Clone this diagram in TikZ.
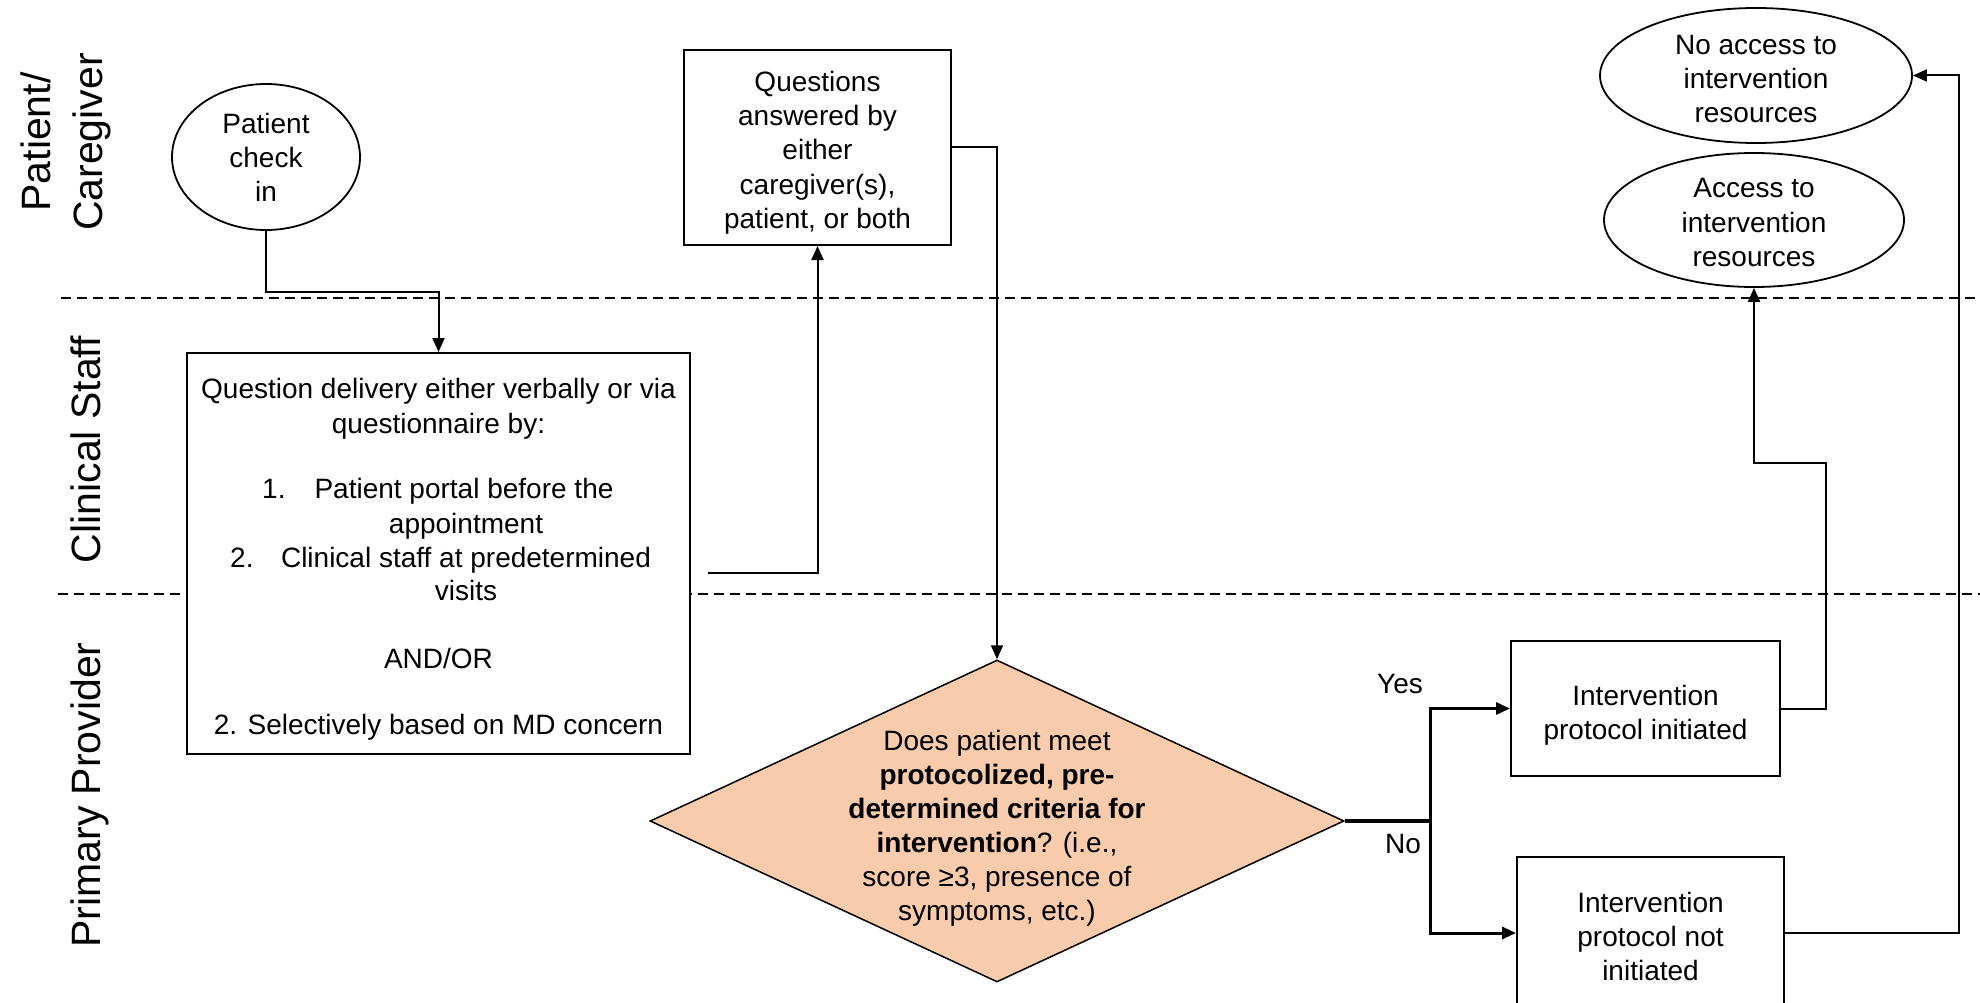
\documentclass[tikz,border=0pt]{standalone}
\usepackage{fontspec}
\setmainfont{Liberation Sans}
\usetikzlibrary{shapes.geometric,arrows.meta,calc}
\definecolor{peach}{RGB}{248,203,173}
\begin{document}
\begin{tikzpicture}[x=1pt,y=-1pt,
  txt/.style={anchor=base,inner sep=0pt,font=\fontsize{28}{34}\selectfont},
  lanelabel/.style={anchor=base,inner sep=0pt,rotate=90,font=\fontsize{41}{50}\selectfont},
  boxn/.style={draw,line width=2pt,fill=white,inner sep=0pt,rectangle},
  ell/.style={draw,line width=1.8pt,ellipse,inner sep=0pt,fill=white},
  conn/.style={line width=2pt},
  arr/.style={conn,-{Triangle[length=14pt,width=12pt]}},
  arrthick/.style={line width=3pt,-{Triangle[length=14pt,width=12pt]}},
  lanesep/.style={line width=2pt,dash pattern=on 10pt off 6pt}]
\useasboundingbox (0,0) rectangle (1980,1003);

% lane separators
\coordinate (s1a) at (61,298);  \coordinate (s1b) at (1980,298);
\coordinate (s2a) at (58,594);  \coordinate (s2b) at (1980,594);
\draw[lanesep] (s1a) -- (s1b);
\draw[lanesep] (s2a) -- (s2b);

% lane labels
\node[lanelabel] (lp1) at (50,142) {Patient/};
\node[lanelabel] (lp2) at (102,142) {Caregiver};
\node[lanelabel] (lcs) at (100,449.5) {Clinical Staff};
\node[lanelabel] (lpp) at (100,795) {Primary Provider};

% shapes
\node[ell,minimum width=188pt,minimum height=146pt] (pc) at (266,157) {};
\node[boxn,minimum width=267pt,minimum height=195pt] (qa) at (817.5,147.5) {};
\node[boxn,minimum width=503pt,minimum height=401pt] (dlv) at (438.5,553.5) {};
\node[diamond,draw,line width=1.5pt,fill=peach,inner sep=0pt,
      minimum width=694pt,minimum height=322pt] (dia) at (997,821) {};
\node[boxn,minimum width=269pt,minimum height=135pt] (yesb) at (1645.5,708.5) {};
\node[boxn,minimum width=267pt,minimum height=152pt] (nob) at (1650.5,933) {};
\node[ell,minimum width=300pt,minimum height=134pt] (acc) at (1754,220) {};
\node[ell,minimum width=312pt,minimum height=135pt] (noacc) at (1756,75.5) {};

% texts: patient check in
\foreach \t [count=\i] in {Patient,check,in}
  \node[txt,name=pct\i] at (266,134+34*\i-34) {\t};
% questions answered
\foreach \t [count=\i] in {Questions,answered by,either,{caregiver(s),},{patient, or both}}
  \node[txt,name=qat\i] at (817.5,92+34*\i-34) {\t};
% question delivery box
\node[txt] (dl1) at (438.5,398) {Question delivery either verbally or via};
\node[txt] (dl2) at (438.5,433) {questionnaire by:};
\node[txt,anchor=base west] (dn1) at (262,498) {1.};
\node[txt] (dl3) at (464,498) {Patient portal before the};
\node[txt] (dl4) at (466,533) {appointment};
\node[txt,anchor=base west] (dn2) at (230,567) {2.};
\node[txt] (dl5) at (466,567) {Clinical staff at predetermined};
\node[txt] (dl6) at (466,600) {visits};
\node[txt] (dl7) at (438.5,668) {AND/OR};
\node[txt] (dl8) at (438.5,734) {2. Selectively based on MD concern};
% diamond
\foreach \t [count=\i] in {Does patient meet,\textbf{protocolized, pre-},\textbf{determined criteria for},{\textbf{intervention}? (i.e.,},{score ≥3, presence of},{symptoms, etc.)}}
  \node[txt,name=dt\i] at (997,750+34*\i-34) {\t};
% yes / no boxes
\node[txt] (yt1) at (1645.5,705) {Intervention};
\node[txt] (yt2) at (1645.5,739) {protocol initiated};
\foreach \t [count=\i] in {Intervention,protocol not,initiated}
  \node[txt,name=nt\i] at (1650.5,912+34*\i-34) {\t};
% ellipses
\foreach \t [count=\i] in {Access to,intervention,resources}
  \node[txt,name=at\i] at (1754,198+34*\i-34) {\t};
\foreach \t [count=\i] in {No access to,intervention,resources}
  \node[txt,name=nat\i] at (1756,55+34*\i-34) {\t};
% branch labels
\node[txt] (lyes) at (1400,693) {Yes};
\node[txt] (lno) at (1403,853) {No};

% connectors
\draw[arr] (pc.south) -- ++(0,61) -| (dlv.north);
\coordinate (dstart) at (708,573);
\draw[arr] (dstart) -| (qa.south);
\draw[arr] (qa.east) -| (dia.north);
\coordinate (split) at (1430,821);
\draw[line width=3.5pt] (dia.east) -- (split);
\draw[arrthick] (split) |- (yesb.west);
\draw[arrthick] (split) |- (nob.west);
\coordinate (ybend) at (1826,463);
\draw[arr] (yesb.east) -| (ybend) -| (acc.south);
\coordinate (nbend) at (1959,75.5);
\draw[arr] (nob.east) -| (nbend) -- (noacc.east);
\end{tikzpicture}
\end{document}
